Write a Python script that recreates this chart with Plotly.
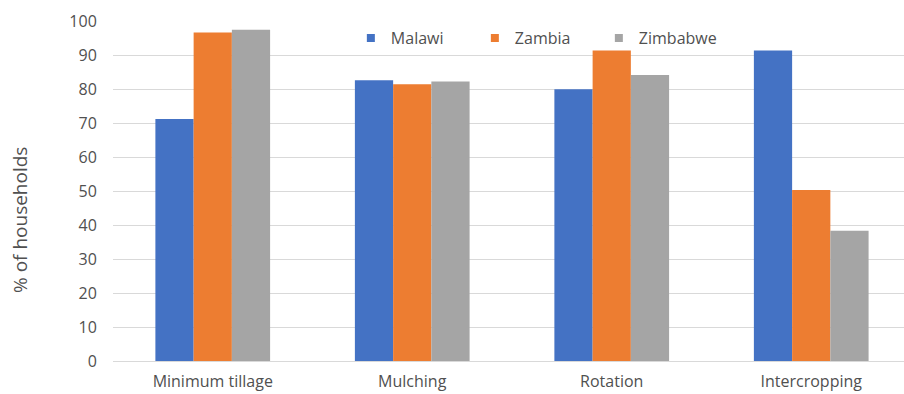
import plotly.graph_objects as go

# Conservation agriculture practices by country
categories = ["Minimum tillage", "Mulching", "Rotation", "Intercropping"]
malawi = [71.2, 82.6, 79.9, 91.3]
zambia = [96.6, 81.4, 91.3, 50.3]
zimbabwe = [97.4, 82.2, 84.1, 38.3]
y_ticks = [0, 10, 20, 30, 40, 50, 60, 70, 80, 90, 100]

series = [
    ("Malawi", malawi, "#4472C4"),
    ("Zambia", zambia, "#ED7D31"),
    ("Zimbabwe", zimbabwe, "#A5A5A5"),
]

FONT = "Open Sans"
TEXT = "#505050"

fig = go.Figure()
for name, vals, color in series:
    fig.add_trace(go.Bar(name=name, x=categories, y=vals, legendgroup=name,
                         showlegend=False,
                         marker=dict(color=color, line=dict(width=0))))
    # small square key for the legend
    fig.add_trace(go.Scatter(name=name, x=[None], y=[None], mode="markers",
                             legendgroup=name, showlegend=True,
                             marker=dict(symbol="square", size=8, color=color)))

fig.update_layout(
    width=904, height=394,
    margin=dict(l=113, r=0, t=21, b=33),
    paper_bgcolor="white", plot_bgcolor="white",
    barmode="group", bargap=0.425, bargroupgap=0,
    font=dict(family=FONT, size=16, color=TEXT),
    legend=dict(orientation="h", x=0.3007, y=0.95, xanchor="left", yanchor="middle",
                font=dict(family=FONT, size=16, color=TEXT),
                entrywidth=79, entrywidthmode="pixels",
                itemwidth=30, bgcolor="rgba(0,0,0,0)"),
    showlegend=True,
)
fig.update_xaxes(range=[-0.5, 3.465], showgrid=False, showline=True,
                 linecolor="#D9D9D9", linewidth=1, ticks="outside",
                 ticklen=6, tickcolor="rgba(0,0,0,0)",
                 tickfont=dict(family=FONT, size=16, color=TEXT))
fig.update_yaxes(range=[0, 100], tickvals=y_ticks, showgrid=True,
                 gridcolor="#D9D9D9", gridwidth=1, zeroline=False,
                 showline=False, ticks="outside", ticklen=12,
                 tickcolor="rgba(0,0,0,0)",
                 tickfont=dict(family=FONT, size=16, color=TEXT))

fig.add_annotation(text="% of households", xref="paper", yref="paper",
                   x=(20 - 113) / 791, y=(361 - 220) / 340, xanchor="center",
                   yanchor="middle", textangle=-90, showarrow=False,
                   font=dict(family=FONT, size=19, color=TEXT))

fig.write_html("out.html")
